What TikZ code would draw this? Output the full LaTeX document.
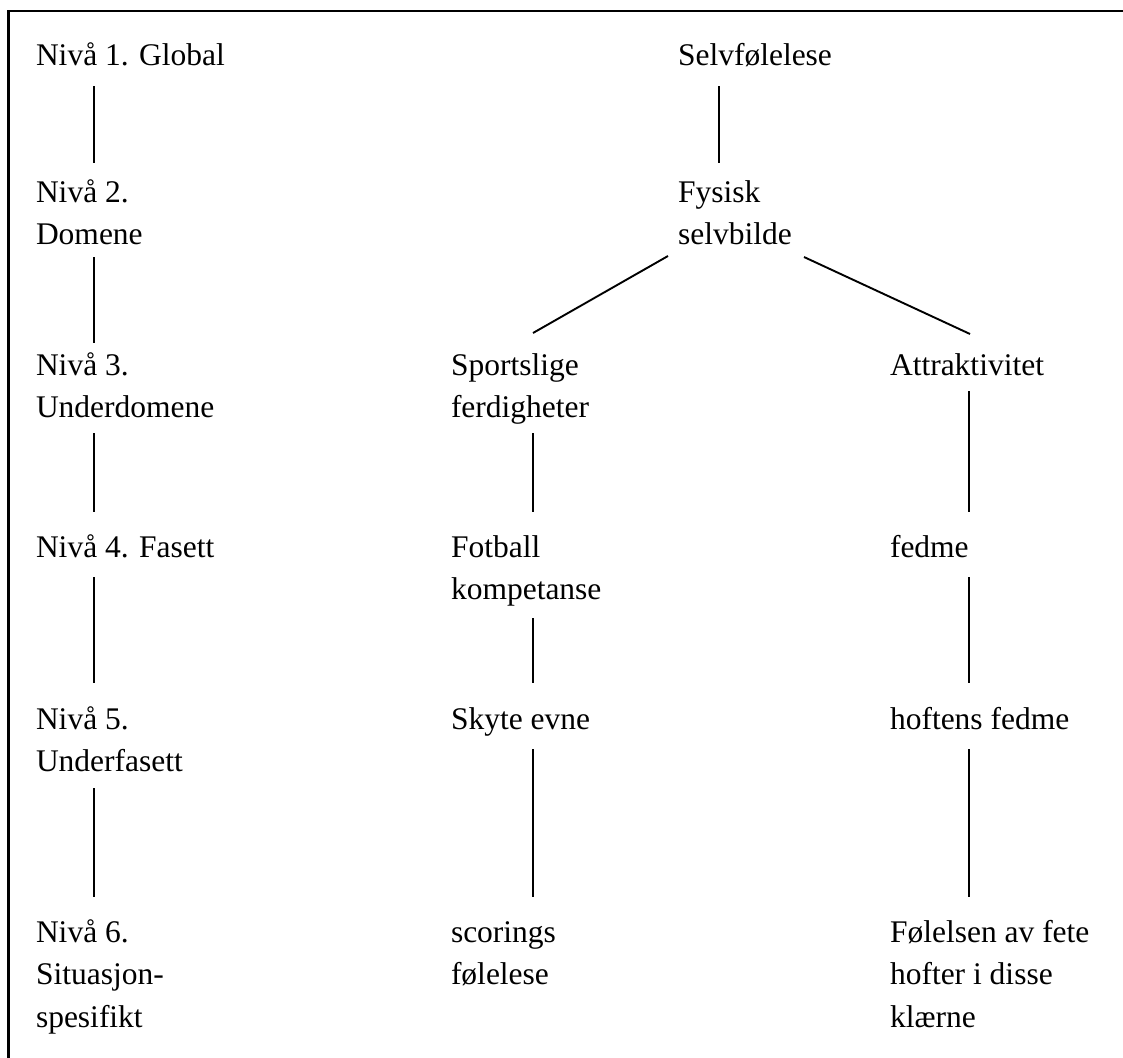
\documentclass[tikz,border=0pt]{standalone}
\usepackage{fontspec}
\setmainfont{Liberation Serif}
\usetikzlibrary{calc}
\tikzset{
  lbl/.style={inner sep=0pt, outer sep=0pt, anchor=base west, align=left,
    font=\fontsize{31.5}{42.5}\selectfont},
  conn/.style={line width=1.9pt},
  frame/.style={line width=2.4pt}
}
\begin{document}
\begin{tikzpicture}[x=1pt,y=-1pt]
\useasboundingbox (0,0) rectangle (1123,1057);
\draw[frame] (8.5,1060) -- (8.5,11) -- (1126,11);

% nodes are placed at the baseline of their LAST line
% left column: levels
\node[lbl] (L1) at (36,65)     {Nivå 1. Global};
\node[lbl] (L2) at (36,244.5)  {Nivå 2.\\Domene};
\node[lbl] (L3) at (36,417.5)  {Nivå 3.\\Underdomene};
\node[lbl] (L4) at (36,557)    {Nivå 4. Fasett};
\node[lbl] (L5) at (36,771.5)  {Nivå 5.\\Underfasett};
\node[lbl] (L6) at (36,1027)   {Nivå 6.\\Situasjon-\\spesifikt};

% top
\node[lbl] (T1) at (678,65)    {Selvfølelese};
\node[lbl] (T2) at (678,244.5) {Fysisk\\selvbilde};

% middle branch
\node[lbl] (M3) at (451,417.5) {Sportslige\\ferdigheter};
\node[lbl] (M4) at (451,599.5) {Fotball\\kompetanse};
\node[lbl] (M5) at (451,729)   {Skyte evne};
\node[lbl] (M6) at (451,984.5) {scorings\\følelese};

% right branch
\node[lbl] (R3) at (890,375)   {Attraktivitet};
\node[lbl] (R4) at (890,557)   {fedme};
\node[lbl] (R5) at (890,729)   {hoftens fedme};
\node[lbl] (R6) at (890,1027)  {Følelsen av fete\\hofter i disse\\klærne};

% left connectors (x = 94)
\draw[conn] ($(L1.base west)+(58,21)$)   -- ($(L2.base west)+(58,-81.5)$);
\draw[conn] ($(L2.base west)+(58,12.5)$) -- ($(L3.base west)+(58,-74.5)$);
\draw[conn] ($(L3.base west)+(58,15.5)$) -- ($(L4.base west)+(58,-45)$);
\draw[conn] ($(L4.base west)+(58,20)$)   -- ($(L5.base west)+(58,-88.5)$);
\draw[conn] ($(L5.base west)+(58,16.5)$) -- ($(L6.base west)+(58,-130)$);

% top connectors
\draw[conn] ($(T1.base west)+(41,21)$)     -- ($(T2.base west)+(41,-81.5)$);
\draw[conn] ($(T2.base west)+(-10,11.5)$)  -- ($(M3.base west)+(82,-84.5)$);
\draw[conn] ($(T2.base west)+(126,12.5)$)  -- ($(R3.base west)+(80,-41)$);

% middle connectors (x = 533)
\draw[conn] ($(M3.base west)+(82,15.5)$) -- ($(M4.base west)+(82,-87.5)$);
\draw[conn] ($(M4.base west)+(82,18.5)$) -- ($(M5.base west)+(82,-46)$);
\draw[conn] ($(M5.base west)+(82,20)$)   -- ($(M6.base west)+(82,-87.5)$);

% right connectors (x = 969)
\draw[conn] ($(R3.base west)+(79,16)$) -- ($(R4.base west)+(79,-45)$);
\draw[conn] ($(R4.base west)+(79,20)$) -- ($(R5.base west)+(79,-46)$);
\draw[conn] ($(R5.base west)+(79,20)$) -- ($(R6.base west)+(79,-130)$);
\end{tikzpicture}
\end{document}
